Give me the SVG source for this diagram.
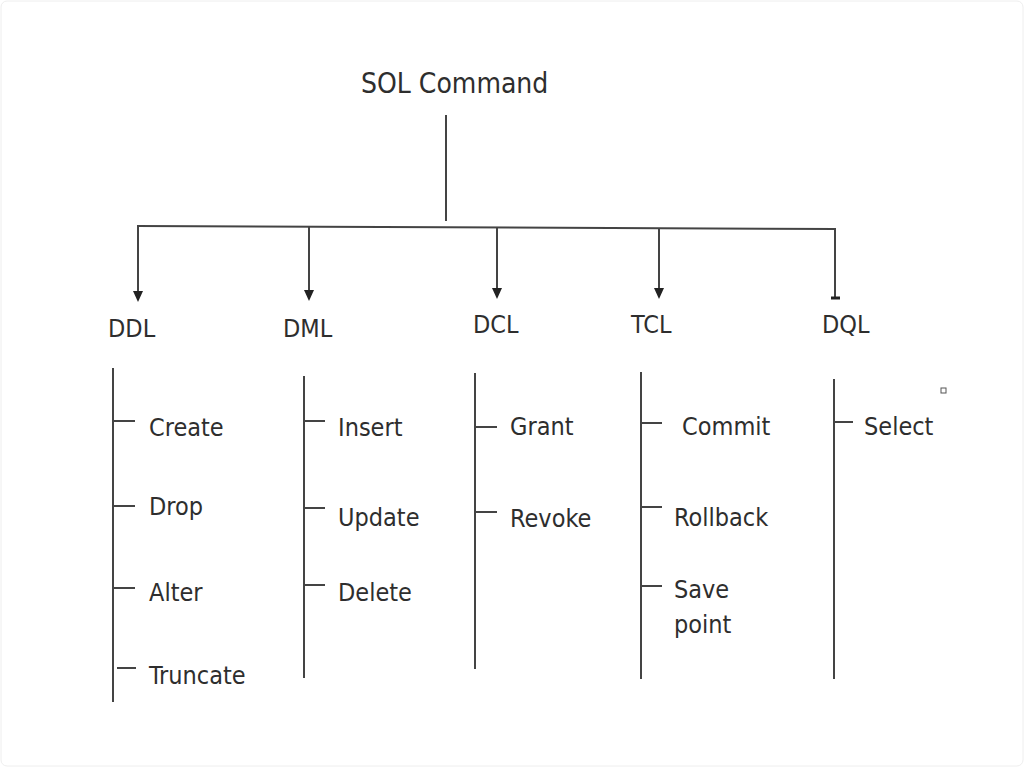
<svg xmlns="http://www.w3.org/2000/svg" width="1024" height="767" viewBox="0 0 1024 767">
<defs>
<style>
text{font-family:"DejaVu Sans Condensed","DejaVu Sans","Liberation Sans",sans-serif;font-stretch:condensed;fill:#2e2e2e;font-size:25px}
.ln{stroke:#444;stroke-width:2;fill:none}
.title{font-size:28px}
</style>
<marker id="arr" markerWidth="10" markerHeight="12" refX="5" refY="11" orient="auto-start-reverse" markerUnits="userSpaceOnUse" viewBox="0 0 10 12">
<path d="M0,0 L10,0 L5,11 Z" fill="#222" transform="rotate(0)"/>
</marker>
</defs>
<rect x="1" y="1" width="1022" height="765" rx="6" fill="#fff" stroke="#eee" stroke-width="1"/>

<g id="root"><text class="title" x="361" y="93">SOL Command</text></g>

<g id="connectors">
<line class="ln" x1="446" y1="115" x2="446" y2="221"/>
<line class="ln" x1="137" y1="226" x2="836" y2="229"/>
<line class="ln" x1="138" y1="226" x2="138" y2="292"/>
<path d="M133,291 L143,291 L138,302 Z" fill="#222"/>
<line class="ln" x1="309" y1="227" x2="309" y2="291"/>
<path d="M304,290 L314,290 L309,301 Z" fill="#222"/>
<line class="ln" x1="497" y1="227" x2="497" y2="289"/>
<path d="M492,288 L502,288 L497,299 Z" fill="#222"/>
<line class="ln" x1="659" y1="228" x2="659" y2="289"/>
<path d="M654,288 L664,288 L659,299 Z" fill="#222"/>
<line class="ln" x1="835" y1="229" x2="835" y2="298"/>
<line x1="831" y1="298" x2="840" y2="298" stroke="#222" stroke-width="3"/>
</g>

<g id="ddl">
<text x="108" y="337">DDL</text>
<line class="ln" x1="113" y1="368" x2="113" y2="702"/>
<line class="ln" x1="113" y1="421" x2="135" y2="421"/>
<line class="ln" x1="113" y1="506" x2="135" y2="506"/>
<line class="ln" x1="113" y1="588" x2="135" y2="588"/>
<line class="ln" x1="117" y1="668" x2="136" y2="668"/>
<text x="149" y="436">Create</text>
<text x="149" y="515">Drop</text>
<text x="149" y="601">Alter</text>
<text x="149" y="684">Truncate</text>
</g>

<g id="dml">
<text x="283" y="337">DML</text>
<line class="ln" x1="304" y1="376" x2="304" y2="678"/>
<line class="ln" x1="304" y1="421" x2="325" y2="421"/>
<line class="ln" x1="304" y1="508" x2="325" y2="508"/>
<line class="ln" x1="304" y1="585" x2="325" y2="585"/>
<text x="338" y="436">Insert</text>
<text x="338" y="526">Update</text>
<text x="338" y="601">Delete</text>
</g>

<g id="dcl">
<text x="473" y="333">DCL</text>
<line class="ln" x1="475" y1="373" x2="475" y2="669"/>
<line class="ln" x1="476" y1="427" x2="497" y2="427"/>
<line class="ln" x1="476" y1="512" x2="497" y2="512"/>
<text x="510" y="435">Grant</text>
<text x="510" y="527">Revoke</text>
</g>

<g id="tcl">
<text x="631" y="333">TCL</text>
<line class="ln" x1="641" y1="372" x2="641" y2="679"/>
<line class="ln" x1="641" y1="423" x2="662" y2="423"/>
<line class="ln" x1="641" y1="507" x2="662" y2="507"/>
<line class="ln" x1="641" y1="586" x2="662" y2="586"/>
<text x="682" y="435">Commit</text>
<text x="674" y="526">Rollback</text>
<text x="674" y="598">Save</text>
<text x="674" y="633">point</text>
</g>

<g id="dql">
<text x="822" y="333">DQL</text>
<line class="ln" x1="834" y1="379" x2="834" y2="679"/>
<line class="ln" x1="834" y1="422" x2="853" y2="422"/>
<text x="864" y="435">Select</text>
</g>

<rect x="941" y="388" width="5" height="5" fill="none" stroke="#555" stroke-width="1"/>
</svg>
